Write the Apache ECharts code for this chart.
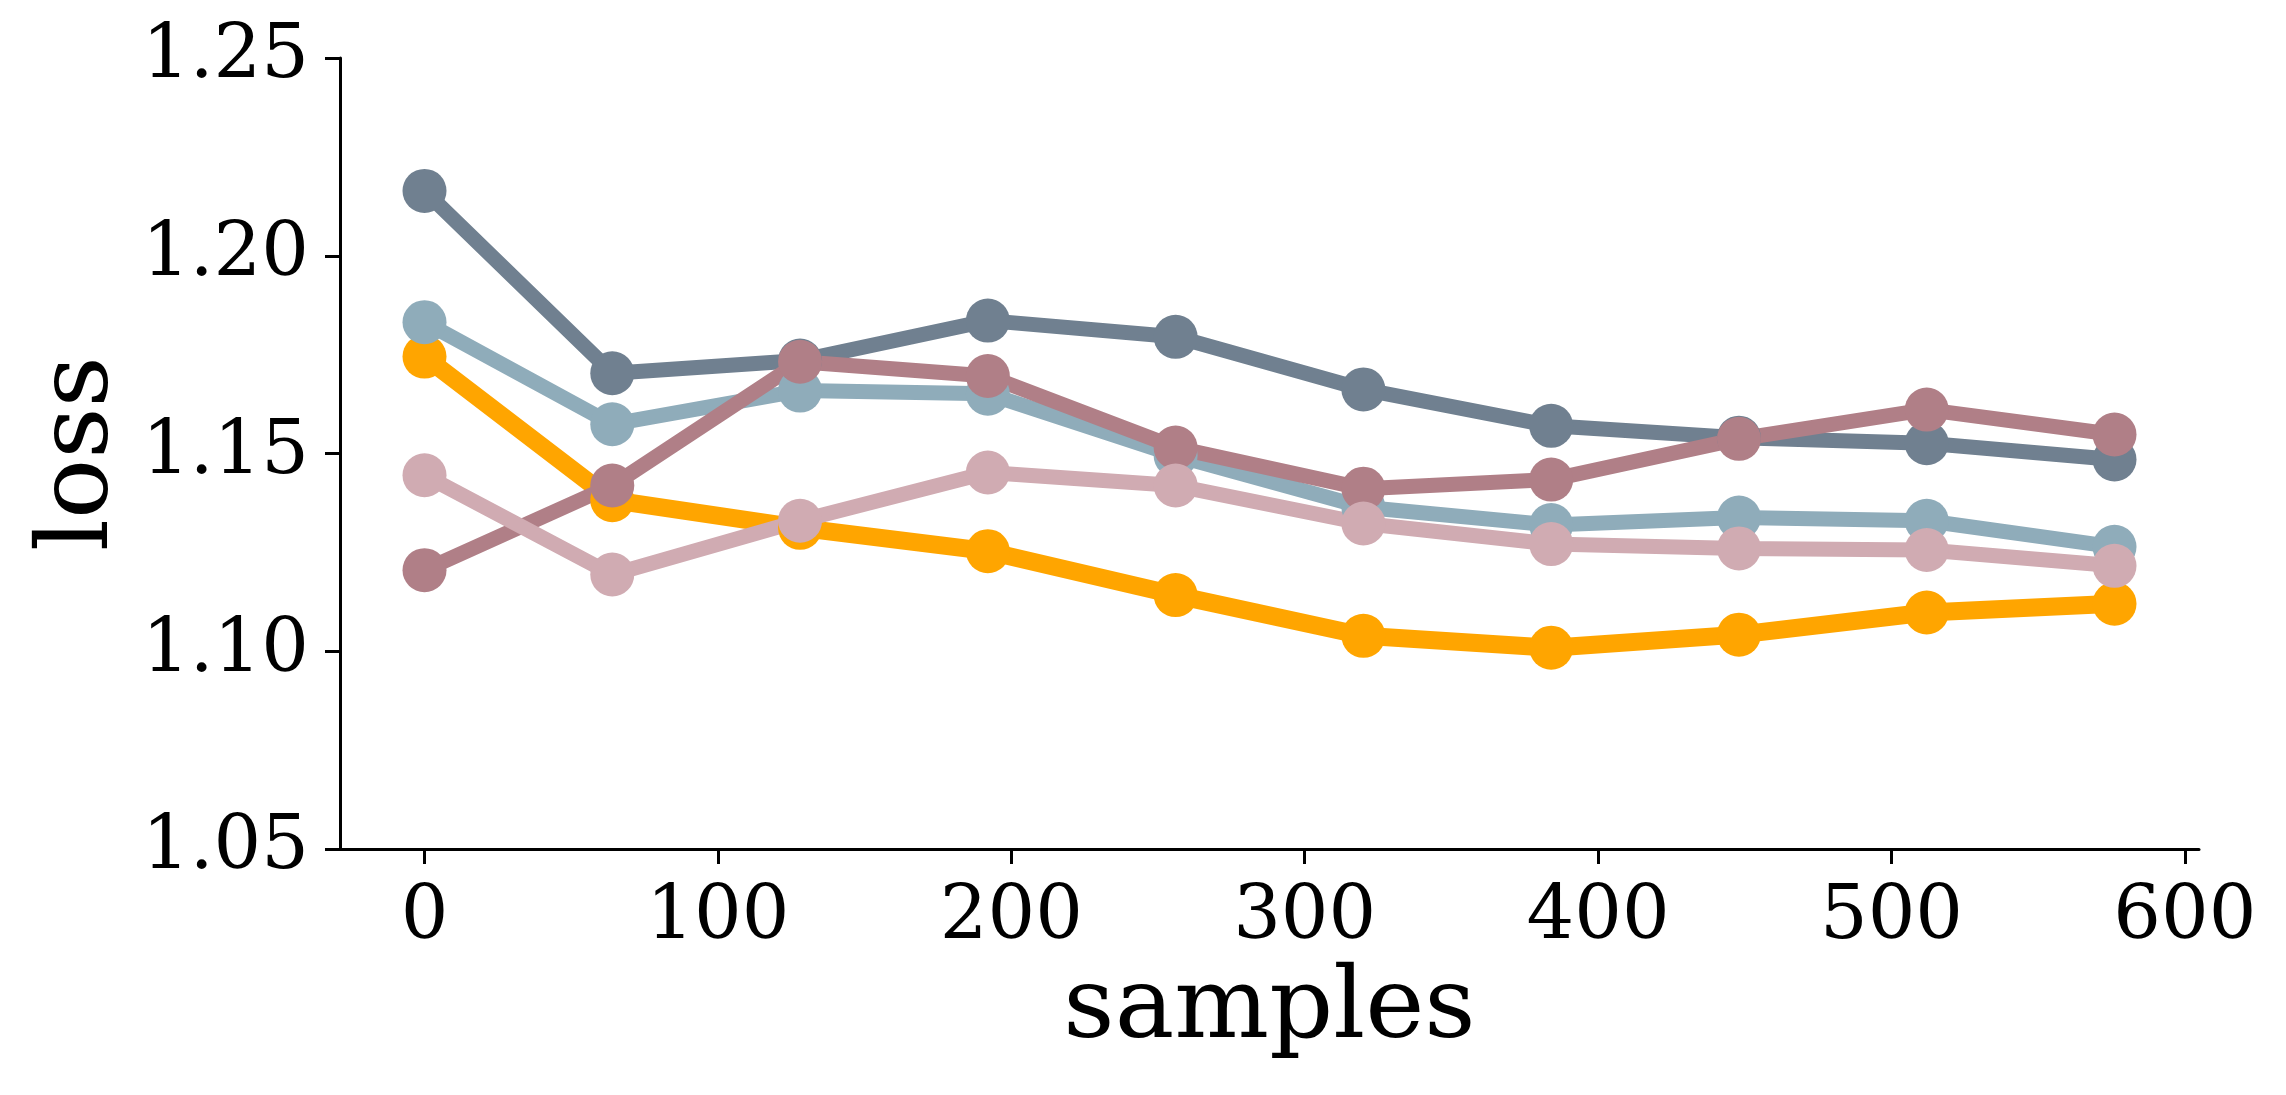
<!DOCTYPE html>
<html>
<head>
<meta charset="utf-8">
<script src="https://cdn.jsdelivr.net/npm/echarts@6/dist/echarts.min.js"></script>
<style>
  html, body { margin: 0; padding: 0; background: #ffffff; }
  #chart { width: 2286px; height: 1095px; }
</style>
</head>
<body>
<div id="chart"></div>
<script>
// samples on the x axis
const samples = [0, 64, 128, 192, 256, 320, 384, 448, 512, 576];
const xTicks = [0, 100, 200, 300, 400, 500, 600];

// loss per run
const lossOrange = [1.1745, 1.1382, 1.1312, 1.1253, 1.1142, 1.1039, 1.1009, 1.1042, 1.1098, 1.1120];
const lossSlate = [1.2164, 1.1703, 1.1735, 1.1836, 1.1795, 1.1662, 1.1570, 1.1540, 1.1526, 1.1485];
const lossBlue = [1.1832, 1.1574, 1.1659, 1.1651, 1.1495, 1.1364, 1.1319, 1.1338, 1.1330, 1.1264];
const lossMauve = [1.1205, 1.1419, 1.1732, 1.1696, 1.1515, 1.1411, 1.1434, 1.1537, 1.1611, 1.1548];
const lossPink = [1.1445, 1.1194, 1.1330, 1.1452, 1.1419, 1.1323, 1.1271, 1.1260, 1.1256, 1.1216];

const font = 'DejaVu Serif';

function makeSeries(values, color, width) {
  return {
    type: 'line',
    data: samples.map((s, i) => [s, values[i]]),
    symbol: 'circle',
    symbolSize: 44,
    showSymbol: true,
    lineStyle: { color: color, width: width },
    itemStyle: { color: color, borderWidth: 0 },
    emphasis: { disabled: true },
  };
}

const chart = echarts.init(document.getElementById('chart'));
chart.setOption({
  animation: false,
  backgroundColor: '#ffffff',
  grid: { left: 340, top: 58, right: 87, bottom: 246, containLabel: false },
  xAxis: {
    type: 'value',
    min: -28.8,
    max: 604.8,
    name: 'samples',
    nameLocation: 'middle',
    nameGap: 112,
    nameTextStyle: { fontFamily: font, fontSize: 100, color: '#000' },
    axisLine: { show: true, onZero: false, lineStyle: { color: '#000', width: 3 } },
    axisTick: { show: true, length: 15, inside: false, lineStyle: { color: '#000', width: 3 }, customValues: xTicks },
    axisLabel: { fontFamily: font, fontSize: 75, color: '#000', margin: 32, customValues: xTicks },
    splitLine: { show: false },
  },
  yAxis: {
    type: 'value',
    min: 1.05,
    max: 1.25,
    interval: 0.05,
    name: 'loss',
    nameLocation: 'middle',
    nameRotate: 90,
    nameGap: 209,
    nameTextStyle: { fontFamily: font, fontSize: 100, color: '#000' },
    axisLine: { show: true, onZero: false, lineStyle: { color: '#000', width: 3 } },
    axisTick: { show: true, length: 15, inside: false, lineStyle: { color: '#000', width: 3 } },
    axisLabel: { fontFamily: font, fontSize: 75, color: '#000', margin: 31, formatter: v => v.toFixed(2) },
    splitLine: { show: false },
  },
  series: [
    makeSeries(lossOrange, '#FFA500', 18),
    makeSeries(lossSlate, '#708090', 15),
    makeSeries(lossBlue, '#8FACBA', 15),
    makeSeries(lossMauve, '#B07F87', 15),
    makeSeries(lossPink, '#D0ABB2', 15),
  ],
});
</script>
</body>
</html>
